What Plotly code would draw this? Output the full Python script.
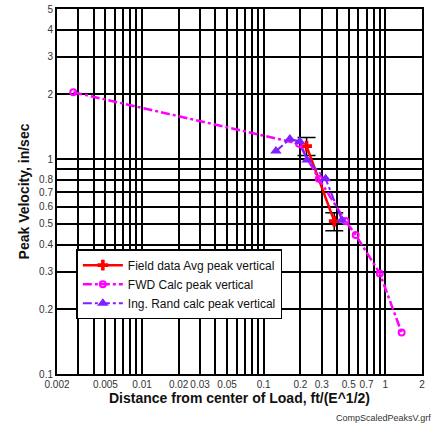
import plotly.graph_objects as go

# Field data (avg peak vertical) with error bars
field_x = [0.225, 0.38]
field_y = [1.15, 0.515]
field_err_plus = [0.11, 0.048]
field_err_minus = [0.11, 0.051]

# FWD calc peak vertical
fwd_x = [0.00272, 0.195, 0.284, 0.47, 0.57, 0.90, 1.36]
fwd_y = [2.05, 1.18, 0.81, 0.515, 0.444, 0.294, 0.156]

# Ing. Rand calc peak vertical
ing_x = [0.126, 0.164, 0.198, 0.227, 0.323, 0.44]
ing_y = [1.09, 1.24, 1.21, 0.99, 0.81, 0.52]

x_grid = [0.002, 0.003, 0.004, 0.005, 0.006, 0.007, 0.008, 0.009, 0.01,
          0.02, 0.03, 0.04, 0.05, 0.06, 0.07, 0.08, 0.09, 0.1,
          0.2, 0.3, 0.4, 0.5, 0.6, 0.7, 0.8, 0.9, 1, 2]
x_labels = {0.002: "0.002", 0.005: "0.005", 0.01: "0.01", 0.02: "0.02", 0.03: "0.03",
            0.05: "0.05", 0.1: "0.1", 0.2: "0.2", 0.3: "0.3", 0.5: "0.5",
            0.7: "0.7", 1: "1", 2: "2"}
y_grid = [0.1, 0.2, 0.3, 0.4, 0.5, 0.6, 0.7, 0.8, 0.9, 1, 2, 3, 4, 5]
y_labels = {0.1: "0.1", 0.2: "0.2", 0.3: "0.3", 0.4: "0.4", 0.5: "0.5", 0.6: "0.6",
            0.7: "0.7", 0.8: "0.8", 1: "1", 2: "2", 3: "3", 4: "4", 5: "5"}

fig = go.Figure()
fig.add_trace(go.Scatter(
    x=field_x, y=field_y, mode="lines+markers", name="Field data Avg peak vertical",
    line=dict(color="#ff0000", width=2.5),
    marker=dict(symbol="cross", size=9, color="#ff0000"),
    error_y=dict(type="data", array=field_err_plus, arrayminus=field_err_minus,
                 color="black", thickness=1.5, width=9),
))
fig.add_trace(go.Scatter(
    x=fwd_x, y=fwd_y, mode="lines+markers", name="FWD Calc peak vertical",
    line=dict(color="#ff00ff", width=2.5, dash="dashdot"),
    marker=dict(symbol="circle-open", size=6, color="#ff00ff", line=dict(width=2)),
))
fig.add_trace(go.Scatter(
    x=ing_x, y=ing_y, mode="lines+markers", name="Ing. Rand calc peak vertical",
    line=dict(color="#7f1fff", width=2, dash="dashdot"),
    marker=dict(symbol="triangle-up", size=10, color="#7f1fff"),
))

fig.update_layout(
    width=434, height=428,
    margin=dict(l=57, r=12, t=9, b=54, autoexpand=False),
    paper_bgcolor="white", plot_bgcolor="white",
    font=dict(family="Liberation Sans, Arial, sans-serif", color="#333333"),
    showlegend=True,
    legend=dict(x=0.053, y=0.342, xanchor="left", yanchor="top",
                bgcolor="white", bordercolor="black", borderwidth=1.5,
                font=dict(size=12, color="#111111"), tracegroupgap=0,
                itemwidth=40),
    xaxis=dict(type="log", range=[-2.69897, 0.30103],
               tickvals=x_grid, ticktext=[x_labels.get(v, "") for v in x_grid],
               tickfont=dict(size=10, color="#333333"), tickangle=0,
               showgrid=True, gridcolor="black", gridwidth=2,
               showline=True, linecolor="black", linewidth=2, mirror=True,
               ticks="", zeroline=False, automargin=False,
               title=dict(text="<b>Distance from center of Load, ft/(E^1/2)</b>",
                          font=dict(size=14, color="#111111"), standoff=4)),
    yaxis=dict(type="log", range=[-1, 0.69897],
               tickvals=y_grid, ticktext=[y_labels.get(v, "") for v in y_grid],
               tickfont=dict(size=10, color="#333333"),
               showgrid=True, gridcolor="black", gridwidth=2,
               showline=True, linecolor="black", linewidth=2, mirror=True,
               ticks="", zeroline=False, automargin=False,
               title=dict(text="<b>Peak Velocity, in/sec</b>",
                          font=dict(size=14, color="#111111"), standoff=6)),
    annotations=[dict(text="CompScaledPeaksV.grf", xref="paper", yref="paper",
                      x=1.03, y=-0.12, xanchor="right", yanchor="middle",
                      showarrow=False, font=dict(size=9, color="#333333"))],
)

fig.write_html("out.html")
